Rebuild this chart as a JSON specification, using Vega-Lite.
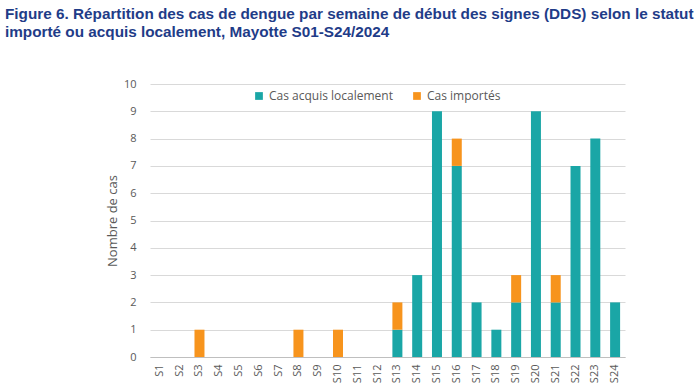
{
  "$schema": "https://vega.github.io/schema/vega-lite/v6.json",
  "width": 475,
  "height": 273,
  "autosize": {"type": "none"},
  "padding": {"left": 150, "top": 84, "right": 71, "bottom": 28},
  "background": "white",
  "title": {
    "text": ["Figure 6. Répartition des cas de dengue par semaine de début des signes (DDS) selon le statut", "importé ou acquis localement, Mayotte S01-S24/2024"],
    "anchor": "start",
    "frame": "group",
    "dx": -145,
    "offset": 38,
    "font": "Liberation Sans",
    "fontSize": 15.3,
    "fontWeight": "bold",
    "color": "#1F3C88",
    "lineHeight": 18
  },
  "data": {
    "values": [
      {"week": "S1", "type": "Cas acquis localement", "n": 0},
      {"week": "S2", "type": "Cas acquis localement", "n": 0},
      {"week": "S3", "type": "Cas importés", "n": 1},
      {"week": "S4", "type": "Cas acquis localement", "n": 0},
      {"week": "S5", "type": "Cas acquis localement", "n": 0},
      {"week": "S6", "type": "Cas acquis localement", "n": 0},
      {"week": "S7", "type": "Cas acquis localement", "n": 0},
      {"week": "S8", "type": "Cas importés", "n": 1},
      {"week": "S9", "type": "Cas acquis localement", "n": 0},
      {"week": "S10", "type": "Cas importés", "n": 1},
      {"week": "S11", "type": "Cas acquis localement", "n": 0},
      {"week": "S12", "type": "Cas acquis localement", "n": 0},
      {"week": "S13", "type": "Cas acquis localement", "n": 1},
      {"week": "S13", "type": "Cas importés", "n": 1},
      {"week": "S14", "type": "Cas acquis localement", "n": 3},
      {"week": "S15", "type": "Cas acquis localement", "n": 9},
      {"week": "S16", "type": "Cas acquis localement", "n": 7},
      {"week": "S16", "type": "Cas importés", "n": 1},
      {"week": "S17", "type": "Cas acquis localement", "n": 2},
      {"week": "S18", "type": "Cas acquis localement", "n": 1},
      {"week": "S19", "type": "Cas acquis localement", "n": 2},
      {"week": "S19", "type": "Cas importés", "n": 1},
      {"week": "S20", "type": "Cas acquis localement", "n": 9},
      {"week": "S21", "type": "Cas acquis localement", "n": 2},
      {"week": "S21", "type": "Cas importés", "n": 1},
      {"week": "S22", "type": "Cas acquis localement", "n": 7},
      {"week": "S23", "type": "Cas acquis localement", "n": 8},
      {"week": "S24", "type": "Cas acquis localement", "n": 2}
    ]
  },
  "mark": {"type": "bar", "width": 10},
  "encoding": {
    "x": {
      "field": "week",
      "type": "nominal",
      "sort": null,
      "scale": {"paddingInner": 0.5, "paddingOuter": 0.25},
      "axis": {
        "title": null,
        "labelAngle": -90,
        "labelAlign": "right",
        "labelBaseline": "middle",
        "labelFont": "Open Sans",
        "labelFontSize": 11,
        "labelColor": "#595959",
        "labelPadding": 7,
        "ticks": false,
        "domainColor": "#bfbfbf",
        "grid": false
      }
    },
    "y": {
      "field": "n",
      "type": "quantitative",
      "stack": "zero",
      "scale": {"domain": [0, 10], "nice": false},
      "axis": {
        "title": "Nombre de cas",
        "titleFont": "Open Sans",
        "titleFontSize": 13,
        "titleFontWeight": "normal",
        "titleColor": "#595959",
        "titlePadding": 4,
        "values": [0,1,2,3,4,5,6,7,8,9,10],
        "labelFont": "Open Sans",
        "labelFontSize": 11,
        "labelColor": "#595959",
        "labelPadding": 14,
        "ticks": false,
        "domain": false,
        "gridColor": "#d9d9d9"
      }
    },
    "color": {
      "field": "type",
      "type": "nominal",
      "scale": {"domain": ["Cas acquis localement", "Cas importés"], "range": ["#1AA6A6", "#F7941D"]},
      "legend": {
        "title": null,
        "orient": "none",
        "legendX": 103,
        "legendY": 6,
        "direction": "horizontal",
        "symbolType": "square",
        "symbolSize": 60,
        "symbolStrokeWidth": 0,
        "labelFont": "Open Sans",
        "labelFontSize": 12,
        "labelColor": "#595959",
        "columnPadding": 18
      }
    },
    "order": {"field": "type", "sort": "ascending"}
  },
  "config": {"view": {"stroke": null}}
}
